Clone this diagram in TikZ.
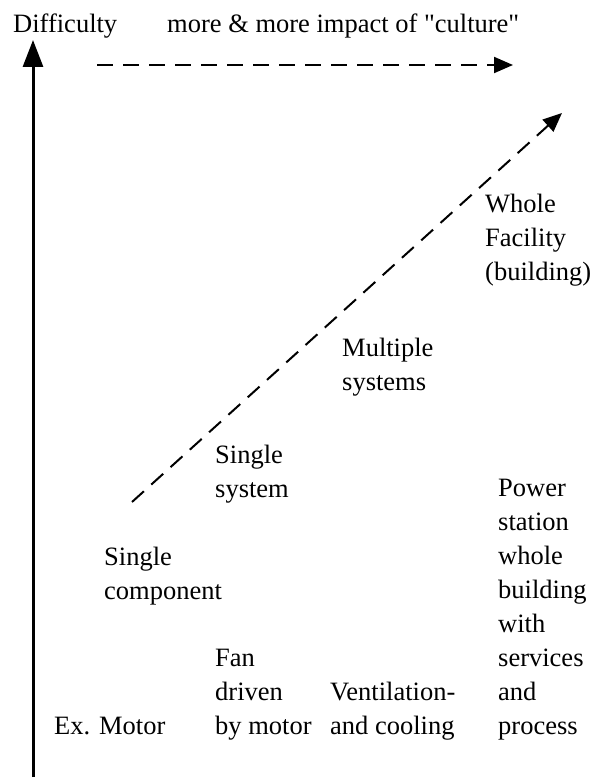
\documentclass[tikz,border=0pt]{standalone}
\usepackage{fontspec}
\setmainfont{Liberation Serif}
\usetikzlibrary{arrows.meta}
\begin{document}
\begin{tikzpicture}[x=1pt,y=-1pt,
  lbl/.style={inner sep=0pt,anchor=base west,align=left,
              font=\fontsize{26.5}{34}\selectfont},
  axis/.style={line width=3pt,-{Triangle[length=27pt,width=20pt]}},
  trend/.style={line width=2pt,dash pattern=on 16pt off 10pt,
                -{Triangle[length=19pt,width=16pt]}}]

\useasboundingbox (0,0) rectangle (593,781);

% titles
\node[lbl] (diff) at (13,33) {Difficulty};
\node[lbl] (cult) at (167,33)
      {more \& more impact of \textquotedbl culture\textquotedbl};

% levels (placed at the baseline of the last line)
\node[lbl] (comp) at (104,599) {Single\\component};
\node[lbl] (sys)  at (215,497) {Single\\system};
\node[lbl] (msys) at (342,390) {Multiple\\systems};
\node[lbl] (fac)  at (485,280) {Whole\\Facility\\(building)};

% examples
\node[lbl] (motor) at (54,734)  {Ex. Motor};
\node[lbl] (fan)   at (215,734) {Fan\\driven\\by motor};
\node[lbl] (vent)  at (330,734) {Ventilation-\\and cooling};
\node[lbl] (power) at (498,734)
      {Power\\station\\whole\\building\\with\\services\\and\\process};

% arrows
\coordinate (base) at (33,777);
\coordinate (peak) at (33,40);
\draw[axis] (base) -- (peak);

\coordinate (hl) at (97,65);
\coordinate (hr) at (513,65);
\draw[trend] (hl) -- (hr);

\coordinate (dl) at (132,502);
\coordinate (dr) at (562,113);
\draw[trend] (dl) -- (dr);

\end{tikzpicture}
\end{document}
